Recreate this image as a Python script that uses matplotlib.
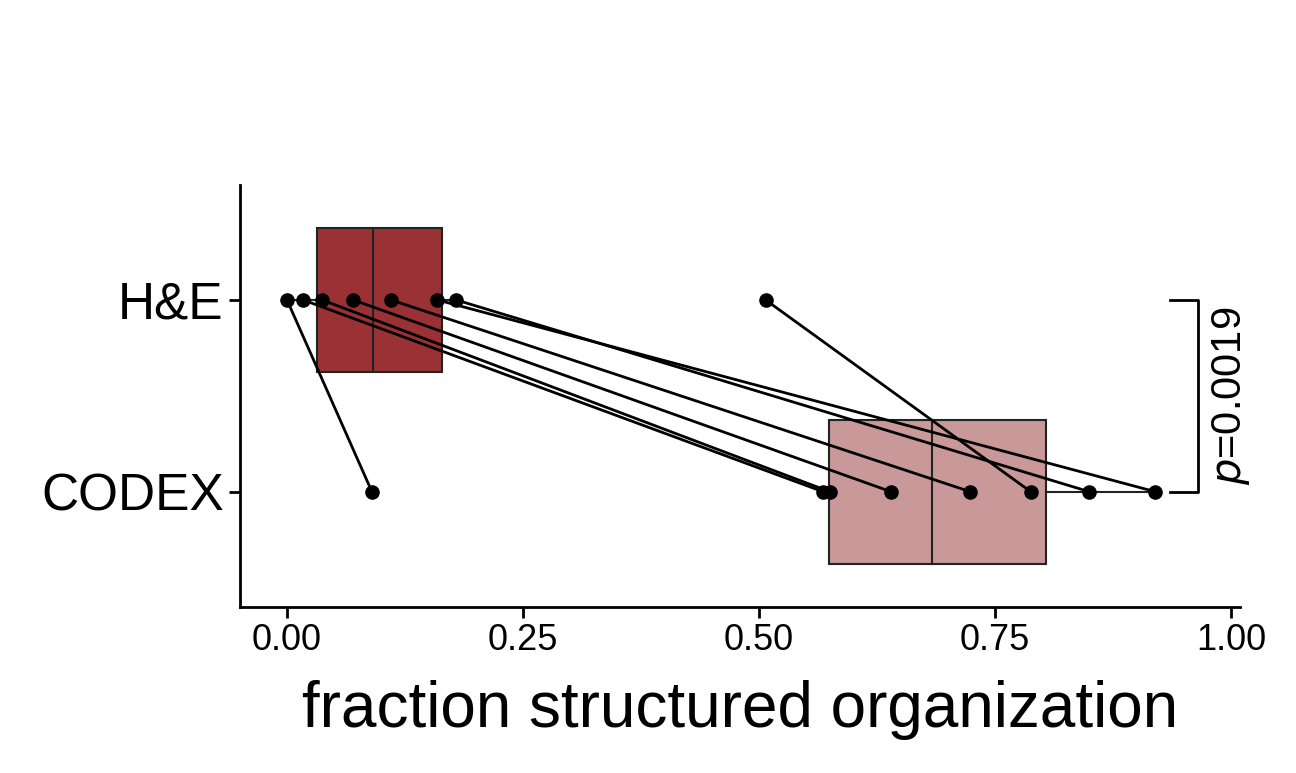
import matplotlib
matplotlib.use("Agg")
import matplotlib.pyplot as plt

plt.rcParams["font.family"] = "Liberation Sans"

categories = ["CODEX", "H&E"]
he_vals = [0.000, 0.017, 0.037, 0.070, 0.110, 0.159, 0.179, 0.507]
codex_vals = [0.090, 0.568, 0.575, 0.640, 0.724, 0.920, 0.850, 0.788]
# box stats: q1, median, q3, whisker low, whisker high
he_box = [0.032, 0.091, 0.164, 0.000, 0.179]
codex_box = [0.574, 0.683, 0.804, 0.568, 0.920]
box_colors = ["#C99898", "#9A3235"]
xticks = [0.00, 0.25, 0.50, 0.75, 1.00]
p_text = r"$p$=0.0019"

fig = plt.figure(figsize=(12.96, 7.73), dpi=100)
ax = fig.add_axes([0.185, 0.215, 0.772, 0.546])

for ypos, st, col in [(1, codex_box, box_colors[0]), (2, he_box, box_colors[1])]:
    q1, med, q3, lo, hi = st
    h = 0.375
    ax.plot([lo, q1], [ypos, ypos], color="#222222", lw=1.5, zorder=1)
    ax.plot([q3, hi], [ypos, ypos], color="#222222", lw=1.5, zorder=1)
    ax.add_patch(plt.Rectangle((q1, ypos - h), q3 - q1, 2 * h, facecolor=col,
                               edgecolor="#222222", lw=1.5, zorder=2))
    ax.plot([med, med], [ypos - h, ypos + h], color="#222222", lw=1.5, zorder=3)

for a, b in zip(he_vals, codex_vals):
    ax.plot([a, b], [2, 1], color="black", lw=2, zorder=4)
ax.scatter(he_vals, [2] * len(he_vals), s=90, color="black", zorder=5)
ax.scatter(codex_vals, [1] * len(codex_vals), s=90, color="black", zorder=5)

# significance bracket
ax.plot([0.936, 0.965, 0.965, 0.936], [2, 2, 1, 1], color="black", lw=2, clip_on=False)
ax.text(1.0, 1.5, p_text, rotation=90, ha="center", va="center", fontsize=30, clip_on=False)

ax.set_xlim(-0.05, 1.01)
ax.set_ylim(0.4, 2.6)
ax.set_yticks([1, 2])
ax.set_yticklabels(categories, fontsize=37)
ax.set_xticks(xticks)
ax.set_xticklabels([f"{v:.2f}" for v in xticks], fontsize=26)
ax.set_xlabel("fraction structured organization", fontsize=46, labelpad=16)
for s in ["top", "right"]:
    ax.spines[s].set_visible(False)
for s in ["left", "bottom"]:
    ax.spines[s].set_linewidth(2)
ax.tick_params(width=2, length=8)

fig.savefig("out.png", dpi=100)
